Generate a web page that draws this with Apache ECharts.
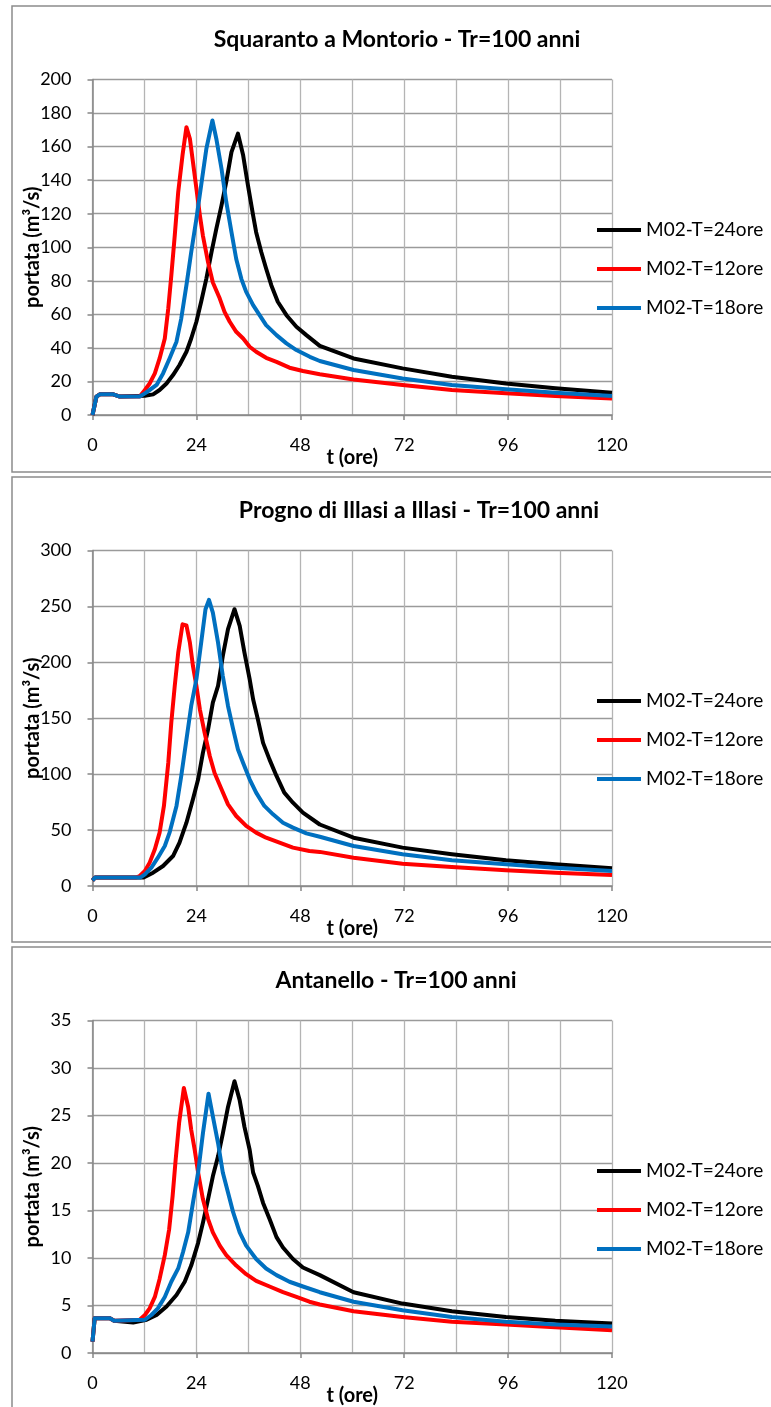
<!DOCTYPE html>
<html>
<head>
<meta charset="utf-8">
<script src="https://cdn.jsdelivr.net/npm/echarts@6/dist/echarts.min.js"></script>
<style>
html,body{margin:0;padding:0;background:#fff;}
#c{width:771px;height:1407px;}
</style>
</head>
<body>
<div id="c"></div>
<script>
// ---------- DATA ----------
const seriesNames = ['M02-T=24ore', 'M02-T=12ore', 'M02-T=18ore'];
const panelTitles = ['Squaranto a Montorio - Tr=100 anni', 'Progno di Illasi a Illasi - Tr=100 anni', 'Antanello - Tr=100 anni'];
const xTicks = [0, 24, 48, 72, 96, 120];
const yMax = [200, 300, 35];
const yStep = [20, 50, 5];

// Squaranto a Montorio  [t (ore), portata (m3/s)]
const sq24 = [[0,0],[0.9,10.9],[1.7,12.3],[4.8,12.3],[6.3,11],[12.1,11.5],[14,12.3],[15.5,14.9],[17.1,18.8],[18.6,23.8],[20.1,29.8],[21.7,37.7],[22.8,45.6],[24,55.6],[25.1,67.5],[26.3,81.3],[27.5,97.2],[28.6,111],[29.8,125],[30.9,139],[32.1,156.7],[33.6,167.7],[34.8,154.8],[35.9,137],[37.1,119],[37.8,109],[39,97],[40.1,87.3],[41.3,77.4],[42.8,67.5],[44.8,59.5],[47.1,52.6],[49.4,47.6],[52.5,41.2],[60.3,33.7],[71.6,27.8],[83,22.8],[95.5,18.8],[106.9,15.9],[120,13.3]];
const sq12 = [[0,0],[0.9,10.9],[1.7,12.3],[4.8,12.3],[6.3,11],[10.9,11],[12.1,14.9],[13.2,18.8],[14.4,24.8],[15.5,33.7],[16.7,45.6],[17.5,63.5],[18.2,83],[19,107],[19.8,133],[20.8,155],[21.7,171.6],[22.5,164.7],[23.2,150.8],[24,135],[24.8,119],[25.5,107],[26.7,91],[27.8,79],[29.4,69.4],[30.5,61.5],[31.7,55.6],[33.2,49.6],[34.8,45.6],[36.3,40.7],[37.8,37.7],[40.1,34.1],[42.5,31.7],[45.5,28.2],[48.6,26.2],[52.5,24.3],[60.3,21.2],[71.6,17.9],[83,14.9],[95.5,12.9],[106.9,11.3],[120,9.9]];
const sq18 = [[0,0],[0.9,10.9],[1.7,12.3],[4.8,12.3],[6.3,11],[10.9,11],[12.1,12.9],[13.2,14.9],[14.8,17.9],[16.3,24.8],[17.8,33.7],[19.4,43.7],[20.5,57.5],[21.7,77.4],[22.8,97],[24,117],[25.1,137],[26.3,158.7],[27.7,175.6],[28.6,164.7],[29.8,146.8],[30.9,127],[32.1,109],[33.2,93],[34.4,81],[35.5,73.4],[37.1,65.5],[38.6,59.5],[40.1,53.6],[42.5,47.6],[44.8,42.7],[47.1,38.7],[50.2,34.7],[52.5,32.2],[60.3,26.8],[71.6,21.8],[83,17.9],[95.5,15.3],[106.9,13.3],[120,11.3]];

// Progno di Illasi a Illasi
const pr24 = [[0,5],[0.6,7.5],[11.7,7.5],[14,11.9],[16.3,17.9],[18.6,26.8],[20.1,38.8],[21.7,56.6],[23.2,77.5],[24.4,95.4],[25.5,119],[26.7,140],[27.8,164],[29,179],[30.1,205.7],[31.3,229.6],[32.8,247.5],[34,232.6],[35.1,208.7],[36.3,184.9],[37.1,167],[38.2,149],[39.4,128],[40.9,113],[42.5,98.4],[44.3,83.5],[46.3,74.5],[48.6,65.6],[52.5,55],[60.3,43.2],[71.6,34.3],[83,28.4],[95.5,23],[106.9,19.4],[120,15.8]];
const pr12 = [[0,5],[0.6,7.5],[10,7.5],[10.9,8.9],[12.1,13.4],[13.2,20.9],[14.4,32.8],[15.5,47.7],[16.5,71.6],[17.5,110],[18.2,146],[19,179],[19.8,208.7],[20.8,234],[21.7,233],[22.5,217.6],[23.2,196.8],[24,179],[24.8,158],[25.9,137],[27.1,116],[28.2,101],[29.8,86.5],[31.3,73],[33.2,62.6],[35.5,53.7],[37.8,47.7],[40.1,43.2],[43.2,38.8],[46.3,34.3],[50.1,31.3],[52.5,30.5],[60.3,25.3],[71.6,19.9],[83,17],[95.5,14],[106.9,11.9],[120,9.8]];
const pr18 = [[0,5],[0.6,7.5],[11,7.5],[12.1,10.4],[13.6,16.4],[15.1,25.3],[16.7,35.8],[17.8,47.7],[19.4,71.6],[20.5,98.4],[21.7,131],[22.8,161],[24,184.9],[25.1,217.6],[26.1,247.5],[26.9,255.8],[27.8,244.5],[29,217.6],[30.1,187.8],[31.3,161],[32.5,140],[33.6,122],[34.8,110],[36.3,95.4],[37.8,83.5],[39.7,71.6],[41.7,64.1],[44,56.6],[46.3,52.2],[49.4,47.1],[52.5,44],[60.3,35.8],[71.6,28.4],[83,23],[95.5,19.4],[106.9,16.4],[120,13.4]];

// Antanello
const an24 = [[0,1.2],[0.5,3.65],[4,3.65],[5,3.4],[9.4,3.2],[12.5,3.5],[14.8,4],[17.1,4.9],[19.4,6.1],[21.3,7.5],[22.8,9.2],[24.4,11.6],[25.5,13.7],[26.7,16.2],[27.8,18.6],[29,20.7],[30.1,23.1],[31.3,25.9],[32.8,28.6],[34,26.6],[35.1,23.8],[36.3,21.4],[37.1,19],[38.2,17.6],[39.4,15.8],[40.9,14.1],[42.5,12.2],[44,11.1],[46.3,9.9],[48.6,9],[52.5,8.2],[60.3,6.4],[71.6,5.2],[83,4.4],[95.5,3.8],[106.9,3.4],[120,3.1]];
const an12 = [[0,1.2],[0.5,3.65],[4,3.65],[5,3.4],[10.9,3.5],[12.1,4],[13.2,4.7],[14.4,5.9],[15.5,7.8],[16.7,10.3],[17.7,13],[18.5,16.5],[19.2,20.3],[20,24.2],[21.1,27.9],[22.1,25.9],[22.8,23.5],[23.6,21.4],[24.4,19],[25.5,16.2],[26.7,14.1],[27.8,12.7],[29.4,11.3],[30.9,10.3],[33.2,9.2],[35.5,8.3],[37.8,7.6],[40.9,7],[44,6.4],[47.1,5.9],[50.1,5.4],[52.5,5.1],[60.3,4.4],[71.6,3.8],[83,3.3],[95.5,3],[106.9,2.7],[120,2.4]];
const an18 = [[0,1.2],[0.5,3.65],[4,3.65],[5,3.4],[12.1,3.5],[13.6,4],[15.1,4.7],[16.7,5.9],[18.2,7.5],[19.8,8.9],[20.9,10.6],[22.1,12.7],[23.2,15.8],[24.4,19],[25.5,23.1],[26.8,27.3],[27.8,24.9],[29,22.1],[30.1,19],[31.3,16.9],[32.5,14.8],[34,12.7],[35.5,11.3],[37.8,9.9],[40.1,8.9],[42.5,8.2],[45.5,7.5],[48.6,7],[52.5,6.4],[60.3,5.4],[71.6,4.5],[83,3.8],[95.5,3.3],[106.9,3],[120,2.8]];

// ---------- CHART ----------
const panelData = [[sq24, sq12, sq18], [pr24, pr12, pr18], [an24, an12, an18]];
const colors = ['#000000', '#ff0000', '#0070c0'];
const FONT = 'Lato, "Open Sans", sans-serif';
const panelTop = [6, 477, 947];
const panelH = [466, 465, 480];
const titleX = [397, 419, 396];

const chart = echarts.init(document.getElementById('c'), null, {renderer: 'canvas'});

const grids = [], xAxes = [], yAxes = [], series = [], legends = [], graphics = [];
for (let p = 0; p < 3; p++) {
  const off = panelTop[p] - 6;
  grids.push({left: 92.5, top: 79.5 + off, width: 519.5, height: 335.5, containLabel: false});
  xAxes.push({
    type: 'value', gridIndex: p, min: 0, max: 120, interval: 24,
    name: 't (ore)', nameLocation: 'middle', nameGap: 33, nameMoveOverlap: false,
    nameTextStyle: {fontFamily: FONT, fontWeight: 'bold', fontSize: 20, color: '#000'},
    axisLine: {show: true, onZero: false, lineStyle: {color: '#868686', width: 1.5}},
    axisTick: {show: true, length: 5, lineStyle: {color: '#868686', width: 1.5}},
    axisLabel: {margin: 21, fontFamily: FONT, fontSize: 18, color: '#000',
      customValues: xTicks},
    splitLine: {show: true, lineStyle: {color: '#b4b4b4', width: 1.3}},
    minorTick: {show: false, splitNumber: 2},
    minorSplitLine: {show: true, lineStyle: {color: '#b4b4b4', width: 1.3}}
  });
  yAxes.push({
    type: 'value', gridIndex: p, min: 0, max: yMax[p], interval: yStep[p],
    name: 'portata (m³/s)', nameLocation: 'middle', nameRotate: 90, nameGap: 50,
    nameMoveOverlap: false,
    nameTextStyle: {fontFamily: FONT, fontWeight: 'bold', fontSize: 20, color: '#000'},
    axisLine: {show: true, lineStyle: {color: '#868686', width: 1.5}},
    axisTick: {show: true, length: 5, lineStyle: {color: '#868686', width: 1.5}},
    axisLabel: {margin: 21, fontFamily: FONT, fontSize: 18, color: '#000'},
    splitLine: {show: true, lineStyle: {color: '#9a9a9a', width: 1.3}}
  });
  for (let s = 0; s < 3; s++) {
    series.push({
      name: seriesNames[s], type: 'line', xAxisIndex: p, yAxisIndex: p,
      data: panelData[p][s], showSymbol: false, symbol: 'none', smooth: false,
      color: colors[s], itemStyle: {color: colors[s]},
      lineStyle: {color: colors[s], width: 4, join: 'round'},
      z: 3 + s, animation: false
    });
  }
  legends.push({
    orient: 'vertical', left: 592, top: 215 + off, itemWidth: 44, itemHeight: 4,
    itemGap: 19, icon: 'rect', data: seriesNames, selectedMode: false,
    textStyle: {fontFamily: FONT, fontSize: 19, color: '#000', lineHeight: 20}
  });
  graphics.push({
    type: 'rect', shape: {x: 12, y: panelTop[p], width: 800, height: panelH[p]},
    style: {fill: 'none', stroke: '#8c8c8c', lineWidth: 1.5}, z: 0, silent: true
  });
  graphics.push({
    type: 'text', x: titleX[p], y: 39.5 + off,
    style: {text: panelTitles[p], fill: '#000', font: 'bold 23px ' + FONT,
      textAlign: 'center', textVerticalAlign: 'middle'}, z: 10, silent: true
  });
}

chart.setOption({
  backgroundColor: '#ffffff',
  animation: false,
  grid: grids, xAxis: xAxes, yAxis: yAxes, series: series, legend: legends,
  graphic: graphics
});
</script>
</body>
</html>
